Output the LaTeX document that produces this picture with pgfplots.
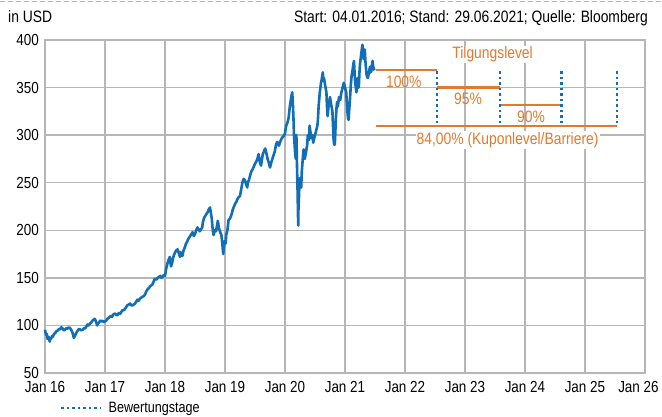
\documentclass[border=0pt]{standalone}
\usepackage{fontspec}
\setmainfont{Liberation Sans}[FakeStretch=0.84]
\usepackage{pgfplots}
\pgfplotsset{compat=1.18}
\definecolor{lineblue}{RGB}{18,110,183}
\definecolor{lvlorange}{RGB}{226,122,46}
\definecolor{gridgray}{RGB}{182,182,182}
\begin{document}
\begin{tikzpicture}[font=\fontsize{16.5}{19}\selectfont]
\path[use as bounding box] (-45pt,-44pt) rectangle (617pt,373pt);
\draw[gridgray, line width=1.6pt, dash pattern=on 5pt off 3pt] (-45pt,371.5pt) -- (617pt,371.5pt);
\node[anchor=base west, inner sep=0pt] at (-37pt,350pt) {in USD};
\node[anchor=base east, inner sep=0pt] at (603pt,350pt) {Start: 04.01.2016; Stand: 29.06.2021; Quelle: Bloomberg};
\begin{axis}[
  at={(0pt,0pt)}, anchor=south west,
  scale only axis, width=600pt, height=333pt,
  xmin=2016, xmax=2026, ymin=50, ymax=400,
  xtick={2016,...,2026},
  xticklabels={Jan 16,Jan 17,Jan 18,Jan 19,Jan 20,Jan 21,Jan 22,Jan 23,Jan 24,Jan 25,Jan 26\hspace*{13pt}},
  ytick={50,100,...,400},
  /pgf/number format/assume math mode=true,
  grid=major, major grid style={gridgray, line width=1.3pt},
  axis line style={gridgray, line width=1.3pt},
  major tick length=0pt,
  xticklabel style={yshift=-8.5pt, inner sep=0pt, font=\fontsize{16}{18}\selectfont},
  yticklabel style={xshift=-6pt, inner sep=0pt, font=\fontsize{16}{18}\selectfont},
  clip=false,
  legend style={at={(0.025,-0.105)}, anchor=west, draw=none, fill=none, inner sep=0pt,
    font=\fontsize{15}{17}\selectfont},
  legend image code/.code={\draw[#1] (0pt,0pt) -- (40pt,0pt);},
]
\addlegendimage{lineblue, line width=2.5pt, dash pattern=on 2.5pt off 3pt}
\addlegendentry{\hspace{4pt}Bewertungstage}
\addplot[lineblue, line width=2.6pt, line join=round, forget plot] coordinates {
(2016.00,95.5)(2016.01,92)(2016.02,90)(2016.03,91)(2016.04,86)(2016.05,87)(2016.06,88)(2016.07,85)(2016.08,83)(2016.09,86)
(2016.10,86)(2016.12,89)(2016.13,88)(2016.15,91)(2016.17,92)(2016.19,94)(2016.21,94.5)(2016.23,96)(2016.25,96)(2016.27,98)
(2016.29,97)(2016.31,95)(2016.33,95)(2016.35,97)(2016.37,96.5)(2016.40,98)(2016.42,97)(2016.44,95)(2016.46,92)(2016.48,87)
(2016.50,89)(2016.52,92)(2016.54,94)(2016.56,96)(2016.58,96)(2016.60,95)(2016.63,95.5)(2016.65,97)(2016.67,97)(2016.69,99)
(2016.71,101)(2016.73,100)(2016.75,102)(2016.77,103)(2016.79,105)(2016.81,106)(2016.83,107)(2016.85,104)(2016.87,100)(2016.88,102)
(2016.90,103)(2016.92,105)(2016.94,104)(2016.96,105)(2016.98,103.5)
(2017.02,105)(2017.04,107)(2017.06,108)(2017.08,109)(2017.10,110)(2017.12,109)(2017.13,111)(2017.15,112)(2017.17,112.5)(2017.19,111)
(2017.21,111)(2017.23,113)(2017.25,112)(2017.27,114)(2017.29,116)(2017.31,116)(2017.33,117)(2017.35,119)(2017.37,121)(2017.40,122)
(2017.42,123)(2017.44,121)(2017.46,121)(2017.48,122)(2017.50,123)(2017.52,125)(2017.54,127)(2017.56,126)(2017.58,128)(2017.60,129)
(2017.62,130)(2017.65,131)(2017.67,133)(2017.69,136)(2017.71,138)(2017.73,139)(2017.75,141)(2017.77,142)(2017.79,143)(2017.81,146)
(2017.83,149)(2017.85,148)(2017.88,150)(2017.90,151)(2017.92,152)(2017.94,150)(2017.96,151)(2017.98,153)
(2018.00,152)(2018.02,160)(2018.04,165)(2018.06,169)(2018.08,172)(2018.09,166)(2018.10,162)(2018.12,166)(2018.13,170)(2018.15,174)
(2018.17,177)(2018.19,179)(2018.21,180)(2018.23,176)(2018.25,172)(2018.26,177)(2018.27,175)(2018.29,173)(2018.31,179)(2018.33,182)
(2018.35,186)(2018.37,188)(2018.38,190)(2018.40,192)(2018.42,194)(2018.44,196)(2018.46,198)(2018.48,194)(2018.50,196)(2018.52,200)
(2018.54,203)(2018.56,201)(2018.58,199)(2018.60,201)(2018.62,203)(2018.63,208)(2018.65,213)(2018.67,215)(2018.69,217)(2018.71,219)
(2018.73,222)(2018.75,224)(2018.76,220)(2018.78,212)(2018.79,204)(2018.80,199)(2018.81,195)(2018.83,200)(2018.85,199)(2018.87,206)
(2018.88,210)(2018.89,206)(2018.90,202)(2018.92,198)(2018.94,195)(2018.96,183)(2018.97,175)(2018.98,182)
(2019.00,189)(2019.01,186)(2019.02,195)(2019.04,200)(2019.06,211)(2019.08,212)(2019.10,215)(2019.12,219)(2019.13,222)(2019.15,225)
(2019.17,228)(2019.19,230)(2019.21,233)(2019.23,235)(2019.25,236)(2019.27,243)(2019.29,250)(2019.31,254)(2019.33,253)(2019.35,249)
(2019.37,245)(2019.38,250)(2019.40,253)(2019.42,258)(2019.44,262)(2019.46,264)(2019.48,267)(2019.50,270)(2019.52,272)(2019.54,275)
(2019.56,280)(2019.58,272)(2019.60,268)(2019.62,276)(2019.63,280)(2019.65,283)(2019.67,286)(2019.69,281)(2019.71,275)(2019.73,271)
(2019.75,266)(2019.77,271)(2019.79,275)(2019.81,279)(2019.83,283)(2019.85,290)(2019.87,293)(2019.88,290)(2019.90,289)(2019.92,293)
(2019.94,296)(2019.96,298)(2019.98,299)
(2020.00,302)(2020.02,310)(2020.04,313)(2020.06,318)(2020.07,324)(2020.08,330)(2020.09,334)(2020.10,338)(2020.11,342)(2020.12,345)
(2020.13,335)(2020.14,320)(2020.15,300)(2020.16,290)(2020.17,280)(2020.18,275)(2020.19,300)(2020.20,268)(2020.21,240)(2020.215,222)
(2020.22,205)(2020.225,225)(2020.23,230)(2020.24,248)(2020.25,255)(2020.26,250)(2020.27,245)(2020.28,262)(2020.29,270)(2020.30,278)
(2020.31,285)(2020.32,280)(2020.33,275)(2020.35,282)(2020.37,290)(2020.38,300)(2020.40,295)(2020.41,310)(2020.42,305)(2020.44,297)
(2020.46,300)(2020.47,292)(2020.48,295)(2020.50,300)(2020.52,305)(2020.54,310)(2020.55,318)(2020.56,330)(2020.58,345)(2020.60,355)
(2020.61,358)(2020.63,366)(2020.64,357)(2020.65,360)(2020.67,352)(2020.69,345)(2020.70,330)(2020.71,320)(2020.73,333)(2020.75,340)
(2020.77,332)(2020.79,325)(2020.80,310)(2020.81,295)(2020.82,290)(2020.83,290)(2020.84,305)(2020.85,320)(2020.86,330)(2020.87,335)
(2020.88,330)(2020.90,340)(2020.92,337)(2020.94,345)(2020.96,350)(2020.98,355)
(2021.00,350)(2021.02,345)(2021.03,335)(2021.04,325)(2021.05,318)(2021.06,316)(2021.07,326)(2021.08,335)(2021.09,345)(2021.10,355)
(2021.11,362)(2021.13,370)(2021.14,375)(2021.15,378)(2021.16,365)(2021.17,355)(2021.18,350)(2021.19,345)(2021.20,352)(2021.21,360)
(2021.22,355)(2021.23,350)(2021.24,365)(2021.25,375)(2021.26,380)(2021.27,385)(2021.28,390)(2021.29,395)(2021.30,388)(2021.31,380)
(2021.32,385)(2021.33,390)(2021.34,378)(2021.35,370)(2021.36,363)(2021.38,360)(2021.39,363)(2021.40,365)(2021.41,370)(2021.42,372)
(2021.43,366)(2021.44,368)(2021.45,374)(2021.46,378)(2021.47,372)(2021.49,368)
};
% level lines
\addplot[lvlorange, line width=2.6pt, forget plot] coordinates {(2021.51,368.5)(2022.53,368.5)};
\addplot[lvlorange, line width=2.6pt, forget plot] coordinates {(2022.53,350)(2023.58,350)};
\addplot[lvlorange, line width=2.6pt, forget plot] coordinates {(2023.58,331.5)(2024.61,331.5)};
\addplot[lvlorange, line width=2.6pt, forget plot] coordinates {(2021.51,309.5)(2025.53,309.5)};
% observation dates
\addplot[lineblue, line width=2.5pt, dash pattern=on 2.5pt off 3pt, forget plot] coordinates {(2022.53,367)(2022.53,312)};
\addplot[lineblue, line width=2.5pt, dash pattern=on 2.5pt off 3pt, forget plot] coordinates {(2023.58,367)(2023.58,312)};
\addplot[lineblue, line width=2.5pt, dash pattern=on 2.5pt off 3pt, forget plot] coordinates {(2024.61,367)(2024.61,312)};
\addplot[lineblue, line width=2.5pt, dash pattern=on 2.5pt off 3pt, forget plot] coordinates {(2025.53,367)(2025.53,312)};
\node[lvlorange, fill=white, inner sep=1pt] at (axis cs:2023.46,385) {Tilgungslevel};
\node[lvlorange, inner sep=1pt] at (axis cs:2021.98,356) {100\%};
\node[lvlorange, inner sep=1pt] at (axis cs:2023.05,338) {95\%};
\node[lvlorange, inner sep=1pt] at (axis cs:2024.10,319) {90\%};
\node[lvlorange, fill=white, inner sep=1pt] at (axis cs:2023.71,295) {84,00\% (Kuponlevel/Barriere)};
\end{axis}
\end{tikzpicture}
\end{document}
